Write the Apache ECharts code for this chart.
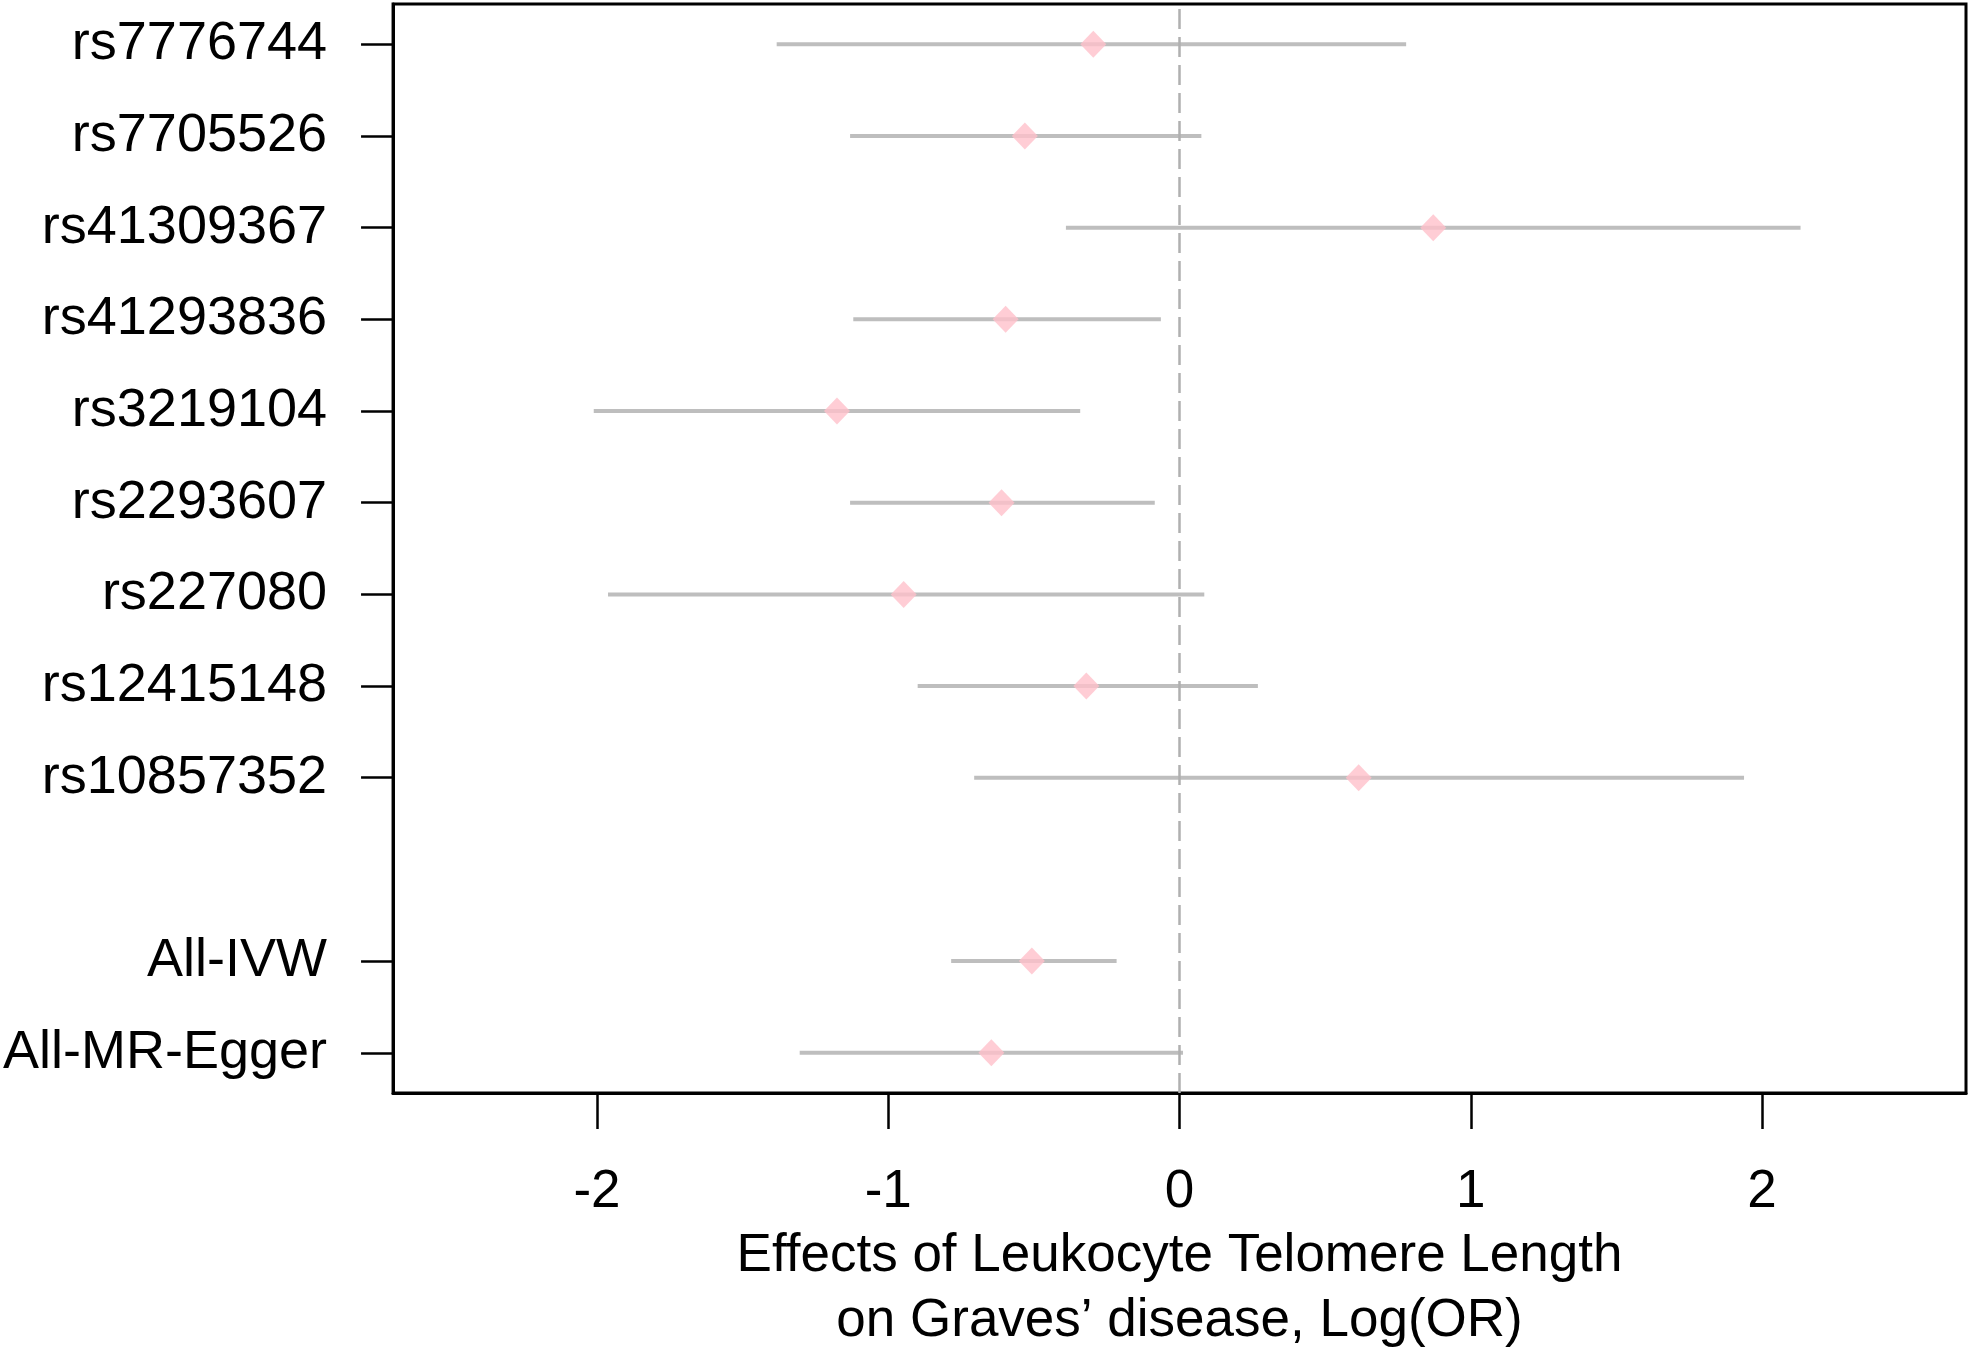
<!DOCTYPE html>
<html>
    <head>
        <meta charset="utf-8">
        <title>Forest plot</title>
        <script src="https://cdn.jsdelivr.net/npm/echarts@6/dist/echarts.min.js"></script>
        <style>
            html, body { margin: 0; padding: 0; background: #fff; }
            #chart1 { width: 1969px; height: 1359px; }
        </style>
    </head>
    <body>
        <div id="chart1"></div>
        <script>
            // SNP / method names, top to bottom
            var names = ['rs7776744', 'rs7705526', 'rs41309367', 'rs41293836', 'rs3219104',
                         'rs2293607', 'rs227080', 'rs12415148', 'rs10857352', 'All-IVW', 'All-MR-Egger'];
            // row index on the y axis (row 3 is left empty)
            var rows = [12, 11, 10, 9, 8, 7, 6, 5, 4, 2, 1];
            // estimate and confidence limits, Log(OR)
            var est   = [-0.296, -0.531, 0.871, -0.597, -1.176, -0.611, -0.947, -0.320, 0.615, -0.507, -0.646];
            var lower = [-1.383, -1.131, -0.390, -1.120, -2.011, -1.131, -1.962, -0.899, -0.705, -0.784, -1.304];
            var upper = [0.778, 0.075, 2.132, -0.064, -0.341, -0.085, 0.085, 0.269, 1.938, -0.216, 0.012];
            var xTicks = [-2, -1, 0, 1, 2];

            var ciData = [], pointData = [];
            for (var i = 0; i < names.length; i++) {
                ciData.push([lower[i], upper[i], rows[i]]);
                pointData.push([est[i], rows[i]]);
            }

            var font = '"Liberation Sans", Arial, sans-serif';
            var myChart1 = echarts.init(document.getElementById('chart1'));
            myChart1.setOption({
                animation: false,
                backgroundColor: '#fff',
                grid: {
                    left: 385, right: 3, top: 4, bottom: 259,
                    show: true, borderColor: '#000', borderWidth: 3, backgroundColor: '#fff'
                },
                xAxis: {
                    type: 'value',
                    min: -2.7, max: 2.7,
                    splitLine: { show: false },
                    axisLine: { show: true, onZero: false, lineStyle: { color: '#000', width: 3 } },
                    axisTick: { show: true, customValues: xTicks, length: 36, lineStyle: { color: '#000', width: 2.5 } },
                    axisLabel: {
                        customValues: xTicks, margin: 73,
                        color: '#000', fontSize: 53, fontFamily: font
                    },
                    name: 'Effects of Leukocyte Telomere Length\non Graves\u2019 disease, Log(OR)',
                    nameLocation: 'middle',
                    nameGap: 130,
                    nameTextStyle: { color: '#000', fontSize: 53, lineHeight: 65, fontFamily: font }
                },
                yAxis: {
                    type: 'value',
                    min: 0.56, max: 12.44,
                    splitLine: { show: false },
                    axisLine: { show: true, onZero: false, lineStyle: { color: '#000', width: 3 } },
                    axisTick: { show: true, customValues: rows, length: 32, lineStyle: { color: '#000', width: 2.5 } },
                    axisLabel: {
                        customValues: rows, margin: 66,
                        color: '#000', fontSize: 54, fontFamily: font,
                        formatter: function (v) {
                            var k = rows.indexOf(Math.round(v));
                            return k >= 0 ? names[k] : '';
                        }
                    }
                },
                series: [
                    {
                        // confidence intervals
                        type: 'custom',
                        data: ciData,
                        encode: { x: [0, 1], y: 2 },
                        renderItem: function (params, api) {
                            var p1 = api.coord([api.value(0), api.value(2)]);
                            var p2 = api.coord([api.value(1), api.value(2)]);
                            return {
                                type: 'line',
                                shape: { x1: p1[0], y1: p1[1], x2: p2[0], y2: p2[1] },
                                style: { stroke: '#bebebe', lineWidth: 4 }
                            };
                        },
                        z: 2
                    },
                    {
                        // point estimates
                        type: 'scatter',
                        data: pointData,
                        symbol: 'diamond',
                        symbolSize: [26, 27],
                        itemStyle: { color: '#ffc0cb' },
                        z: 3,
                        markLine: {
                            silent: true,
                            symbol: 'none',
                            label: { show: false },
                            lineStyle: { color: '#b0b0b0', width: 2.5, type: [20, 8] },
                            data: [{ xAxis: 0 }]
                        }
                    }
                ]
            });
        </script>
    </body>
</html>
